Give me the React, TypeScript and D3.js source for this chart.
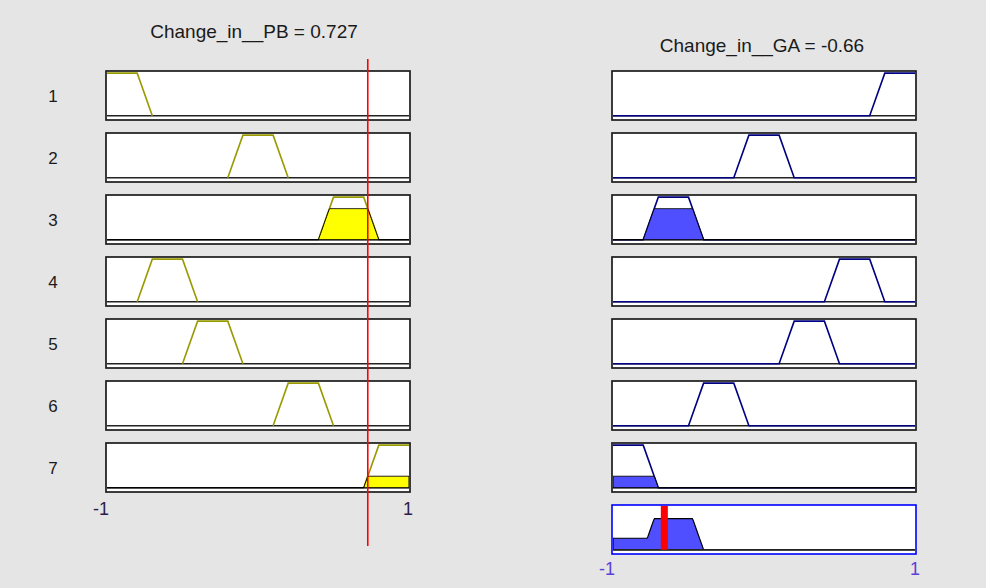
import * as d3 from "d3";

// fuzzy rule viewer: input Change_in__PB, output Change_in__GA
const ruleLabels = ["1", "2", "3", "4", "5", "6", "7"];
const inputMfs = [
  [-1.2, -1, -0.8, -0.7],
  [-0.2, -0.1, 0.1, 0.2],
  [0.4, 0.5, 0.7, 0.8],
  [-0.8, -0.7, -0.5, -0.4],
  [-0.5, -0.4, -0.2, -0.1],
  [0.1, 0.2, 0.4, 0.5],
  [0.7, 0.8, 1, 1.2],
];
const outputMfs = [
  [0.7, 0.8, 1, 1.2],
  [-0.2, -0.1, 0.1, 0.2],
  [-0.8, -0.7, -0.5, -0.4],
  [0.4, 0.5, 0.7, 0.8],
  [0.1, 0.2, 0.4, 0.5],
  [-0.5, -0.4, -0.2, -0.1],
  [-1.2, -1, -0.8, -0.7],
];
const inputName = "Change_in__PB";
const outputName = "Change_in__GA";
const inputValue = 0.727;
const outputValue = -0.66;
const rangeTicks = [-1, 1];

const W = 986,
  H = 588;
const rowTop0 = 71,
  rowStep = 62,
  boxH = 49;
const font = "'Liberation Sans', Arial, sans-serif";

function trap(x: number, p: number[]) {
  const [a, b, c, d] = p;
  const up = b === a ? 1 : (x - a) / (b - a);
  const down = d === c ? 1 : (d - x) / (d - c);
  return Math.max(0, Math.min(up, 1, down));
}

const firing = inputMfs.map((p) => trap(inputValue, p));

// evaluation points over the universe, plus breakpoints
const xs = Array.from(
  new Set([...d3.range(0, 401).map((i) => -1 + i * 0.005), ...outputMfs.flat(), ...inputMfs.flat()].filter((v) => v >= -1 && v <= 1))
).sort((a, b) => a - b);

export default function App() {
  const xL = d3.scaleLinear().domain([-1, 1]).range([107, 409]);
  const xR = d3.scaleLinear().domain([-1, 1]).range([613, 915]);
  const yRow = d3.scaleLinear().domain([-0.1, 1.05]).range([boxH, 0]);
  const rowTop = (i: number) => rowTop0 + i * rowStep;

  const line = (x: d3.ScaleLinear<number, number>) =>
    d3
      .line<number[]>()
      .x((d) => x(d[0]))
      .y((d) => yRow(d[1]));

  const fillPath = (x: d3.ScaleLinear<number, number>, f: (v: number) => number) => {
    const pts = xs.map((v) => [v, f(v)]);
    return line(x)([[-1, 0], ...pts, [1, 0]]) + "Z";
  };

  const box = (x: d3.ScaleLinear<number, number>) => (
    <>
      <rect x={x(-1) - 1} y={0} width={x(1) - x(-1) + 2} height={boxH} fill="#fff" />
      <line x1={x(-1)} x2={x(1)} y1={yRow(0)} y2={yRow(0)} stroke="#222" strokeWidth={1.5} />
    </>
  );

  const aggregate = (v: number) => d3.max(outputMfs, (p, i) => Math.min(trap(v, p), firing[i])) as number;

  return (
    <svg width={W} height={H} style={{ position: "absolute", left: 0, top: 0 }} fontFamily={font}>
      <defs>
        <clipPath id="clipL">
          <rect x={xL(-1)} y={-2} width={xL(1) - xL(-1)} height={boxH + 4} />
        </clipPath>
        <clipPath id="clipR">
          <rect x={xR(-1)} y={-2} width={xR(1) - xR(-1)} height={boxH + 4} />
        </clipPath>
      </defs>
      <rect width={W} height={H} fill="#e5e5e5" />

      <text x={254} y={38} textAnchor="middle" fontSize={19} fill="#1a1a1a">
        {`${inputName} = ${inputValue}`}
      </text>
      <text x={762} y={52} textAnchor="middle" fontSize={19} fill="#1a1a1a">
        {`${outputName} = ${outputValue}`}
      </text>

      {ruleLabels.map((lab, i) => (
        <g key={lab} transform={`translate(0,${rowTop(i)})`}>
          <text x={53} y={31} textAnchor="middle" fontSize={17} fill="#1a1a1a">
            {lab}
          </text>

          {/* input panel */}
          {box(xL)}
          <g clipPath="url(#clipL)">
            <path
              d={line(xL)([
                [inputMfs[i][0], 0],
                [inputMfs[i][1], 1],
                [inputMfs[i][2], 1],
                [inputMfs[i][3], 0],
              ]) as string}
              fill="none"
              stroke="#999900"
              strokeWidth={1.6}
            />
            {firing[i] > 0 && (
              <path
                d={fillPath(xL, (v) => Math.min(trap(v, inputMfs[i]), firing[i]))}
                fill="#ffff00"
                stroke="#000"
                strokeWidth={1}
              />
            )}
          </g>
          <rect x={xL(-1) - 1} y={0} width={xL(1) - xL(-1) + 2} height={boxH} fill="none" stroke="#1c1c1c" strokeWidth={1.7} />

          {/* output panel */}
          {box(xR)}
          <g clipPath="url(#clipR)">
            <path
              d={line(xR)([
                [-1, 0],
                [outputMfs[i][0], 0],
                [outputMfs[i][1], 1],
                [outputMfs[i][2], 1],
                [outputMfs[i][3], 0],
                [1, 0],
              ]) as string}
              fill="none"
              stroke="#000080"
              strokeWidth={1.6}
            />
            {firing[i] > 0 && (
              <path
                d={fillPath(xR, (v) => Math.min(trap(v, outputMfs[i]), firing[i]))}
                fill="#4f4fff"
                stroke="#000"
                strokeWidth={1}
              />
            )}
          </g>
          <rect x={xR(-1) - 1} y={0} width={xR(1) - xR(-1) + 2} height={boxH} fill="none" stroke="#1c1c1c" strokeWidth={1.7} />
        </g>
      ))}

      {/* aggregated output */}
      <g transform={`translate(0,${rowTop(7)})`}>
        {box(xR)}
        <g clipPath="url(#clipR)">
          <path d={fillPath(xR, aggregate)} fill="#4f4fff" stroke="#000" strokeWidth={1.2} />
        </g>
        <line x1={xR(-1)} x2={xR(1)} y1={yRow(0)} y2={yRow(0)} stroke="#222" strokeWidth={1.5} />
        <rect x={xR(outputValue) - 3.5} y={1} width={7} height={yRow(0) - 1} fill="#ff0000" />
        <rect x={xR(-1) - 1} y={0} width={xR(1) - xR(-1) + 2} height={boxH} fill="none" stroke="#0000ff" strokeWidth={1.6} />
      </g>

      {/* input value marker */}
      <line x1={xL(inputValue)} x2={xL(inputValue)} y1={59} y2={546} stroke="#ff0000" strokeWidth={1.6} />

      {rangeTicks.map((t) => (
        <text key={"l" + t} x={xL(t) + (t < 0 ? -6 : -1)} y={515} textAnchor="middle" fontSize={18} fill="#2e2048">
          {t}
        </text>
      ))}
      {rangeTicks.map((t) => (
        <text key={"r" + t} x={xR(t) + (t < 0 ? -6 : 0)} y={575} textAnchor="middle" fontSize={18} fill="#5a3fd8">
          {t}
        </text>
      ))}
    </svg>
  );
}
